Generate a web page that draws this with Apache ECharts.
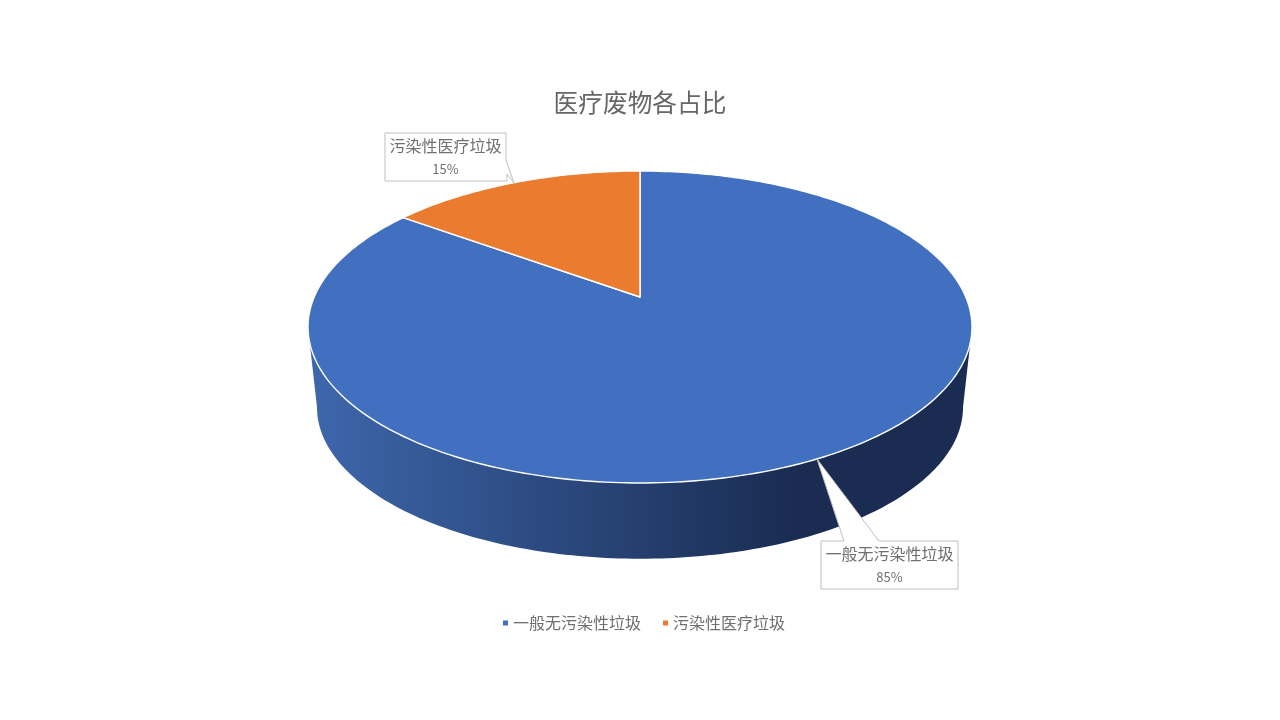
<!DOCTYPE html>
<html><head><meta charset="utf-8">
<style>html,body{margin:0;padding:0;background:#fff}#c{width:1280px;height:720px}</style>
<script src="https://cdn.jsdelivr.net/npm/echarts@6/dist/echarts.min.js"></script>
</head><body><div id="c"></div>
<script>
const categories = ['一般无污染性垃圾', '污染性医疗垃圾'];
const shareValues = [85, 15];
const sliceColors = ['#4270c0', '#ea7b2f'];
const chartTitle = '医疗废物各占比';

const FONT = '"Noto Sans CJK SC","Noto Sans",sans-serif';
const total = shareValues.reduce((a, b) => a + b, 0);
const rad = d => d * Math.PI / 180;

// Perspective projection of the top and bottom discs of the pie
const CX = 640, K = 0.1923;
const TOP = { y0: 297, a: 325.8, b: 150.2 };
const BOT = { y0: 378, a: 317, b: 146 };
function project(disc, deg) {
  const u = Math.sin(rad(deg)), v = -Math.cos(rad(deg)), w = 1 - K * v;
  return [CX + disc.a * u / w, disc.y0 + disc.b * v / w];
}
function arc(disc, from, to) {
  const n = Math.max(2, Math.ceil(Math.abs(to - from))), pts = [];
  for (let i = 0; i <= n; i++) pts.push(project(disc, from + (to - from) * i / n));
  return pts;
}
const WALL_TOP = [106.8, 253.2], WALL_BOT = [101, 259];
const wallBotAngle = d => WALL_BOT[0] + (d - WALL_TOP[0]) * (WALL_BOT[1] - WALL_BOT[0]) / (WALL_TOP[1] - WALL_TOP[0]);

const callouts = [
  { path: [[821,541],[844,541],[817,459],[879,541],[958,541],[958,589],[821,589]], t: [889.5, 554], p: [889.5, 577] },
  { path: [[385,133],[506,133],[506,160],[514,183],[507,174],[507,181],[385,181]], t: [445.5, 146], p: [445.5, 169] }
];

function renderSlice(index) {
  return function (params, api) {
    const value = api.value(0);
    const before = shareValues.slice(0, index).reduce((a, b) => a + b, 0);
    const start = before / total * 360, end = (before + value) / total * 360;
    const children = [];
    const wa = Math.max(start, WALL_TOP[0]), wb = Math.min(end, WALL_TOP[1]);
    if (wb > wa) {
      const pts = arc(TOP, wa, wb).concat(arc(BOT, wallBotAngle(wb), wallBotAngle(wa)));
      children.push({ type: 'polygon', shape: { points: pts }, z2: 1, style: {
        fill: new echarts.graphic.LinearGradient(316, 0, 790, 0, [
          { offset: 0, color: '#3d66ab' }, { offset: 1, color: '#1a2c52' }], true) } });
    }
    children.push({ type: 'polygon', z2: 2,
      shape: { points: [[CX, TOP.y0]].concat(arc(TOP, start, end)) },
      style: { fill: sliceColors[index], stroke: '#fff', lineWidth: 1.4, lineJoin: 'round' } });
    const c = callouts[index];
    children.push({ type: 'polygon', z2: 3, shape: { points: c.path },
      style: { fill: '#fff', stroke: '#bfbfbf', lineWidth: 1 } });
    children.push({ type: 'text', z2: 4, x: c.t[0], y: c.t[1], style: {
      text: categories[index], font: '16px ' + FONT, fill: '#707070', align: 'center', verticalAlign: 'middle' } });
    children.push({ type: 'text', z2: 4, x: c.p[0], y: c.p[1], style: {
      text: Math.round(value / total * 100) + '%', font: '13px ' + FONT, fill: '#707070', align: 'center', verticalAlign: 'middle' } });
    return { type: 'group', children };
  };
}

const chart = echarts.init(document.getElementById('c'), null, { renderer: 'canvas' });
chart.setOption({
  animation: false,
  backgroundColor: '#fff',
  color: sliceColors,
  title: { text: chartTitle, left: 'center', top: 85, textStyle: { fontFamily: FONT, fontSize: 24.7, fontWeight: 'normal', color: '#666666' } },
  legend: { left: 498, top: 610, itemWidth: 5, itemHeight: 5, itemGap: 22, icon: 'rect',
    data: categories, textStyle: { fontFamily: FONT, fontSize: 16, color: '#707070', padding: [0, 0, 0, 0] } },
  series: categories.map((name, i) => ({
    type: 'custom', name, coordinateSystem: 'none', z: i === 0 ? 2 : 3, silent: true,
    itemStyle: { color: sliceColors[i] },
    data: [[shareValues[i]]],
    renderItem: renderSlice(i)
  }))
});
</script></body></html>
